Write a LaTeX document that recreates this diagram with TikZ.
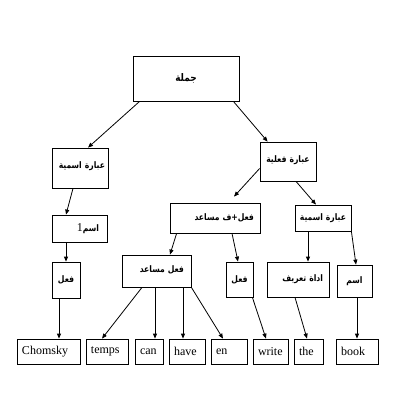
\documentclass[tikz,border=0pt]{standalone}
\usepackage{fontspec}
\setmainfont{Liberation Serif}
\newfontfamily\arabicfont[Script=Arabic, FakeStretch=0.85]{DejaVu Sans}
\TeXXeTstate=1
\usetikzlibrary{arrows.meta}
\newcommand{\artext}[1]{{\arabicfont\beginR #1\endR}}
\tikzset{
  >=Triangle,
  treearrow/.style={-{Triangle[length=5pt, width=4pt]}, line width=0.8pt, black}
}

\begin{document}
\begin{tikzpicture}[x=1pt, y=-1pt,
    arbox/.style={rectangle, draw=black, line width=0.8pt, inner xsep=3pt, inner ysep=0pt, align=right, font=\bfseries\fontsize{9}{11}\selectfont},
    wordbox/.style={rectangle, draw=black, line width=0.8pt, inner xsep=5pt, inner ysep=0pt, align=left, font=\fontsize{12}{14}\selectfont, minimum height=25pt}
]
    \useasboundingbox (0,0) rectangle (400,400);

    % Root
    \node[arbox, align=center, text width=100pt, minimum height=45pt, font=\bfseries\fontsize{10.5}{12}\selectfont] (s) at (186, 78.5) {\artext{جملة}};

    % Level 1
    \node[arbox, text width=50pt, minimum height=40pt] (np1) at (80, 168) {\raisebox{6pt}{\artext{عبارة اسمية}}};
    \node[arbox, align=center, text width=50pt, minimum height=39pt] (vp) at (288, 161.5) {\raisebox{5.5pt}{\artext{عبارة فعلية}}};

    % Level 2
    \node[arbox, text width=84pt, minimum height=30pt] (auxv) at (215, 218) {\raisebox{2pt}{\artext{فعل+ف مساعد}}\kern3pt};
    \node[arbox, align=center, text width=50pt, minimum height=26pt] (np2) at (323, 218) {\artext{عبارة اسمية}};
    \node[arbox, text width=49pt, minimum height=27pt] (n1) at (79.5, 228.5) {{\fontsize{12}{12}\selectfont\mdseries 1}\artext{اسم}\kern5pt};

    % Level 3
    \node[arbox, align=center, text width=22pt, minimum height=36pt] (v1) at (66, 280) {\artext{فعل}};
    \node[arbox, text width=63pt, minimum height=32pt] (aux) at (156.5, 271) {\raisebox{4pt}{\artext{فعل مساعد}}\kern4pt};
    \node[arbox, align=center, text width=21pt, minimum height=35pt] (v2) at (239.5, 279.5) {\artext{فعل}};
    \node[arbox, text width=56pt, minimum height=35pt] (det) at (298, 279.5) {\raisebox{3.5pt}{\artext{اداة تعريف}}\kern3pt};
    \node[arbox, align=center, text width=29pt, minimum height=32pt] (n2) at (354.5, 281) {\artext{اسم}};

    % Words at y = 351.5
    \node[wordbox, text width=53pt] (chomsky) at (48.5, 351.5) {Chomsky};
    \node[wordbox, text width=32pt] (temps) at (107, 351.5) {temps};
    \node[wordbox, text width=18pt] (can) at (149, 351.5) {can};
    \node[wordbox, text width=26pt] (have) at (187, 351.5) {have};
    \node[wordbox, text width=26pt] (en) at (229, 351.5) {en};
    \node[wordbox, text width=25pt] (write) at (270.5, 351.5) {write};
    \node[wordbox, text width=19pt] (the) at (308.5, 351.5) {the};
    \node[wordbox, text width=32pt] (book) at (357, 351.5) {book};

    % Arrows from the root
    \draw[treearrow] ([xshift=7pt]s.south west) -- ([xshift=8pt]np1.north);
    \draw[treearrow] ([xshift=-6pt]s.south east) -- ([xshift=8pt]vp.north west);

    % Left branch
    \draw[treearrow] ([xshift=-7pt]np1.south) -- ([xshift=-13.5pt]n1.north);
    \draw[treearrow] ([xshift=-13.5pt]n1.south) -- (v1.north);
    \draw[treearrow] ([xshift=-7pt]v1.south) -- ([xshift=-7pt]v1.south |- chomsky.north);

    % Right branch
    \draw[treearrow] ([yshift=-7pt]vp.west) -- ([xshift=19pt, yshift=6pt]auxv.north);
    \draw[treearrow] ([xshift=8pt]vp.south) -- ([xshift=-7pt]np2.north);
    \draw[treearrow] ([xshift=7pt]auxv.south west) -- ([xshift=13.5pt]aux.north);
    \draw[treearrow] ([xshift=17pt]auxv.south) -- ([xshift=-1.5pt]v2.north);
    \draw[treearrow] ([xshift=-15pt]np2.south) -- ([xshift=-15pt]np2.south |- det.north);
    \draw[treearrow] (np2.south east) -- ([xshift=1.5pt]n2.north);

    % Auxiliary to words
    \draw[treearrow] ([xshift=-14.5pt]aux.south) -- ([xshift=-5pt]temps.north);
    \draw[treearrow] ([xshift=-1.5pt]aux.south) -- ([xshift=-1.5pt]aux.south |- can.north);
    \draw[treearrow] ([xshift=26.5pt]aux.south) -- ([xshift=26.5pt]aux.south |- have.north);
    \draw[treearrow] (aux.south east) -- ([xshift=-6pt]en.north);
    \draw[treearrow] ([xshift=-1pt]v2.south east) -- ([xshift=-4.5pt]write.north);
    \draw[treearrow] ([xshift=-3pt]det.south) -- ([xshift=-1.5pt]the.north);
    \draw[treearrow] ([xshift=2.5pt]n2.south) -- ([xshift=2.5pt]n2.south |- book.north);
\end{tikzpicture}
\end{document}
